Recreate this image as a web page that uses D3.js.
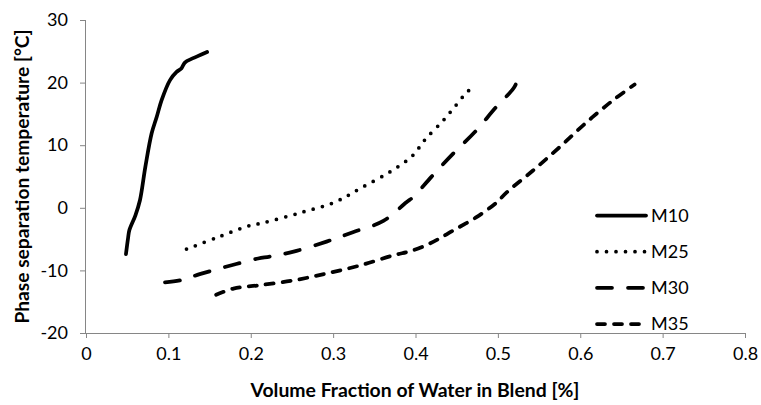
<!DOCTYPE html>
<html><head><meta charset="utf-8">
<script src="https://cdn.jsdelivr.net/npm/d3@7"></script>
<style>
html,body{margin:0;padding:0;background:#fff;}
svg text{font-family:Lato,"Open Sans",sans-serif;fill:#000;}
</style>
</head><body>
<svg id="c" width="761" height="405"></svg>
<script>
const seriesNames = ["M10","M25","M30","M35"];
const m10X = [0.0485,0.051,0.0526,0.060,0.0655,0.072,0.0797,0.0858,0.0918,0.102,0.110,0.116,0.120,0.130,0.147];
const m10Y = [-7.4,-4.9,-3.6,-1.2,1.2,6.5,11.9,14.5,17.2,20.4,21.7,22.3,23.2,23.9,24.9];
const m25X = [0.122,0.160,0.197,0.215,0.260,0.302,0.333,0.371,0.397,0.411,0.434,0.448,0.462,0.471];
const m25Y = [-6.6,-4.7,-2.9,-2.4,-0.8,0.9,3.1,5.9,8.4,10.8,14.0,16.2,18.4,19.4];
const m30X = [0.0959,0.114,0.138,0.179,0.209,0.223,0.252,0.292,0.324,0.361,0.389,0.397,0.419,0.446,0.472,0.498,0.519,0.525];
const m30Y = [-11.9,-11.6,-10.6,-9.1,-8.1,-7.8,-7.0,-5.4,-3.9,-2.1,0.9,1.7,4.9,8.7,12.1,16.1,19.1,20.7];
const m35X = [0.158,0.179,0.209,0.252,0.292,0.333,0.373,0.397,0.422,0.446,0.474,0.498,0.511,0.543,0.575,0.608,0.640,0.666];
const m35Y = [-13.9,-12.9,-12.4,-11.6,-10.5,-9.2,-7.6,-6.8,-5.4,-3.6,-1.5,0.8,2.5,6.0,9.7,13.7,17.2,19.7];
const xTicks = [0,0.1,0.2,0.3,0.4,0.5,0.6,0.7,0.8];
const yTicks = [-20,-10,0,10,20,30];
const xTitle = "Volume Fraction of Water in Blend [%]";
const yTitle = "Phase separation temperature [°C]";

const svg = d3.select("#c");
const x = d3.scaleLinear().domain([0,0.8]).range([86,745]);
const y = d3.scaleLinear().domain([-20,30]).range([333,20]);
const axisColor = "#868686";

const gx = svg.append("g").attr("transform","translate(0,333)")
  .call(d3.axisBottom(x).tickValues(xTicks).tickSize(5).tickPadding(9).tickFormat(d=>d===0?"0":String(Math.round(d*10)/10)));
const gy = svg.append("g").attr("transform","translate(86,0)")
  .call(d3.axisLeft(y).tickValues(yTicks).tickSize(6).tickPadding(12).tickFormat(d=>String(d)));
[gx,gy].forEach(g=>{
  g.selectAll("path,line").attr("stroke",axisColor).attr("stroke-width",1);
  g.selectAll("text").attr("font-size",18).attr("font-family","Lato").attr("fill","#000");
});
gx.select(".domain").attr("d","M86,0.5H745");
gy.select(".domain").attr("d","M-0.5,20V333");

svg.append("text").attr("x",415).attr("y",397).attr("text-anchor","middle")
  .attr("font-weight","bold").attr("font-size",19.4).text(xTitle);
svg.append("text").attr("transform","translate(29,176.5) rotate(-90)").attr("text-anchor","middle")
  .attr("font-weight","bold").attr("font-size",19.2).text(yTitle);

const dashes = {M10:null, M25:"0,9.5", M30:"15,16", M35:"8,9"};
const data = {
  M10: m10X.map((v,i)=>[v,m10Y[i]]),
  M25: m25X.map((v,i)=>[v,m25Y[i]]),
  M30: m30X.map((v,i)=>[v,m30Y[i]]),
  M35: m35X.map((v,i)=>[v,m35Y[i]])
};
const line = d3.line().x(d=>x(d[0])).y(d=>y(d[1])).curve(d3.curveCatmullRom.alpha(0.5));
seriesNames.forEach(n=>{
  svg.append("path").attr("d",line(data[n])).attr("fill","none").attr("stroke","#000")
    .attr("stroke-width",3.75).attr("stroke-linecap","round").attr("stroke-linejoin","round")
    .attr("stroke-dasharray",dashes[n]);
});

const legY = d3.scalePoint().domain(seriesNames).range([215.5,324]);
seriesNames.forEach(n=>{
  svg.append("line").attr("x1",597).attr("x2",646).attr("y1",legY(n)).attr("y2",legY(n))
    .attr("stroke","#000").attr("stroke-width",3.75).attr("stroke-linecap","round")
    .attr("stroke-dasharray",dashes[n]);
  svg.append("text").attr("x",651).attr("y",legY(n)).attr("dy","0.36em").attr("font-size",18).text(n);
});
</script>
</body></html>
